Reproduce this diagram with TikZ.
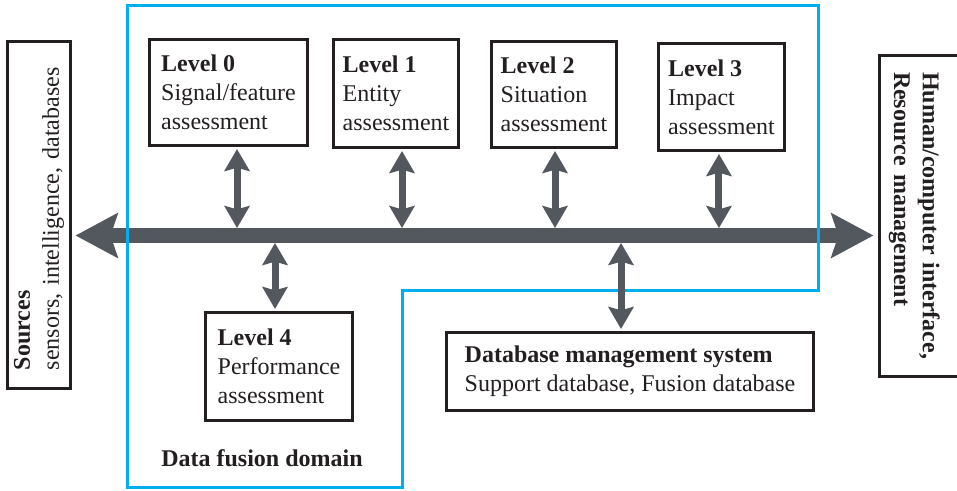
\documentclass[tikz,border=0pt]{standalone}
\usepackage{fontspec}
\setmainfont{Liberation Serif}
\usetikzlibrary{arrows.meta}
\definecolor{busgray}{HTML}{53575E}
\definecolor{framebk}{HTML}{231F20}
\definecolor{zoneblue}{HTML}{00AEEF}
\begin{document}
\begin{tikzpicture}[x=0.75pt,y=-0.75pt]
\tikzstyle{every node}=[font=\fontsize{18}{21.6}\selectfont,text=framebk]
\tikzstyle{levelbox}=[draw=framebk,line width=2.25pt,align=left,inner sep=0pt]
\tikzstyle{sidebox}=[levelbox,inner xsep=13.9pt,inner ysep=0pt]
\tikzstyle{bus}=[draw=busgray,line width=11.25pt,{Stealth[length=31.5pt,width=33pt,inset=5.25pt]}-{Stealth[length=31.5pt,width=33pt,inset=5.25pt]}]
\tikzstyle{duplex}=[draw=busgray,line width=5.25pt,{Stealth[length=16.5pt,width=18.75pt,inset=2.5pt]}-{Stealth[length=16.5pt,width=18.75pt,inset=2.5pt]}]
\tikzstyle{fusionzone}=[draw=zoneblue,line width=2.25pt]
\useasboundingbox (0,0) rectangle (957,490);
% fusion levels
\node[levelbox,minimum width=118.5pt,minimum height=79.5pt] (lvl0) at (228.5,92.5) {\textbf{Level 0}\\Signal/feature\\assessment};
\node[levelbox,minimum width=93.75pt,minimum height=81pt] (lvl1) at (396,93.5) {\textbf{Level 1}\\Entity\\assessment};
\node[levelbox,minimum width=93.75pt,minimum height=79.5pt] (lvl2) at (554,94.5) {\textbf{Level 2}\\Situation\\assessment};
\node[levelbox,minimum width=94.5pt,minimum height=80.25pt] (lvl3) at (721.5,97) {\textbf{Level 3}\\Impact\\assessment};
\node[levelbox,minimum width=110.25pt,minimum height=81pt] (lvl4) at (279,366.5) {\textbf{Level 4}\\Performance\\assessment};
\node[levelbox,minimum width=275.25pt,minimum height=58.5pt] (dbms) at (630,371.5) {\textbf{Database management system}\\Support database, Fusion database};
% sources and interface
\node[sidebox,rotate=90,text width=232.5pt,minimum height=47.25pt] (src) at (39,215) {\textbf{Sources}\\sensors, intelligence, databases};
\node[sidebox,rotate=-90,font=\fontsize{18}{21.6}\selectfont\bfseries,text width=216pt,inner xsep=12.4pt,text height=39pt,text depth=32.6pt] (hci) at (927.25,216) {Human/computer interface,\\Resource management};
\node[font=\fontsize{18}{21.6}\selectfont\bfseries,anchor=base west,inner sep=0pt] (zonelabel) at (161,466) {Data fusion domain};
% bus
\coordinate (bus) at (475,235.5);
\path[bus,shorten <=2.6pt,shorten >=3.4pt] (src.south |- bus) -- (hci.south |- bus);
\path[fusionzone] (127,5) -- (818,5) -- (818,290) -- (402,290) -- (402,487) -- (127,487) -- cycle;
% links to the bus
\path[duplex,shorten <=1.5pt,shorten >=5.6pt] ([xshift=6.4pt]lvl0.south) -- ([xshift=6.4pt]lvl0.south |- bus);
\path[duplex,shorten <=1.5pt,shorten >=5.6pt] ([xshift=4.5pt]lvl1.south) -- ([xshift=4.5pt]lvl1.south |- bus);
\path[duplex,shorten <=1.5pt,shorten >=5.6pt] ([xshift=0.75pt]lvl2.south) -- ([xshift=0.75pt]lvl2.south |- bus);
\path[duplex,shorten <=1.5pt,shorten >=5.6pt] ([xshift=-1.9pt]lvl3.south) -- ([xshift=-1.9pt]lvl3.south |- bus);
\path[duplex,shorten <=5.6pt,shorten >=1.5pt] ([xshift=-3pt]lvl4.north |- bus) -- ([xshift=-3pt]lvl4.north);
\path[duplex,shorten <=5.6pt,shorten >=1.5pt] ([xshift=-6.75pt]dbms.north |- bus) -- ([xshift=-6.75pt]dbms.north);
\end{tikzpicture}
\end{document}
